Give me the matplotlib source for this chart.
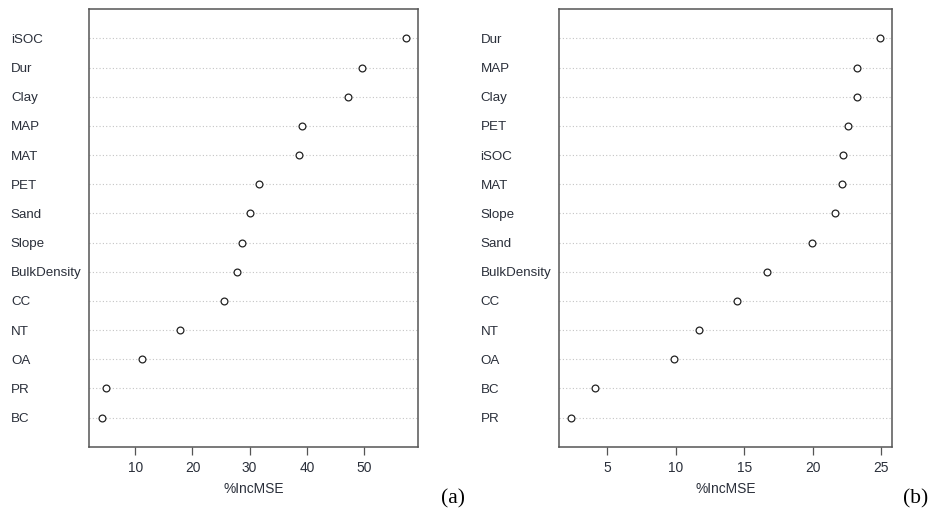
import matplotlib
matplotlib.use('Agg')
import matplotlib.pyplot as plt

# Panel (a): Variablen und %IncMSE (von oben nach unten)
vars_a = ['iSOC', 'Dur', 'Clay', 'MAP', 'MAT', 'PET', 'Sand', 'Slope',
          'BulkDensity', 'CC', 'NT', 'OA', 'PR', 'BC']
inc_a = [57.4, 49.6, 47.3, 39.1, 38.6, 31.6, 30.0, 28.7, 27.8, 25.5,
         17.8, 11.2, 4.9, 4.1]
ticks_a = [10, 20, 30, 40, 50]

# Panel (b)
vars_b = ['Dur', 'MAP', 'Clay', 'PET', 'iSOC', 'MAT', 'Slope', 'Sand',
          'BulkDensity', 'CC', 'NT', 'OA', 'BC', 'PR']
inc_b = [24.9, 23.2, 23.2, 22.6, 22.2, 22.1, 21.6, 19.95, 16.7, 14.5,
         11.7, 9.9, 4.1, 2.4]
ticks_b = [5, 10, 15, 20, 25]

TXT = '#2a2f3a'
EDGE = '#555555'

plt.rcParams['font.family'] = ['Liberation Sans', 'DejaVu Sans']

fig = plt.figure(figsize=(9.3, 5.15), dpi=100)


def dotchart(ax, labels, values, ticks):
    n = len(labels)
    rows = list(range(n, 0, -1))
    ax.grid(axis='y', linestyle=(0, (1, 2)), color='#c4c4c4', linewidth=0.8)
    ax.set_axisbelow(True)
    ax.scatter(values, rows, s=24, facecolors='white', edgecolors='#222222',
               linewidths=0.9, zorder=3)
    lo, hi = min(values), max(values)
    pad = 0.04 * (hi - lo)
    ax.set_xlim(lo - pad, hi + pad)
    ax.set_ylim(0, n + 1)
    ax.set_yticks(rows)
    ax.set_yticklabels(labels, fontsize=9.6, color=TXT)
    for lbl in ax.get_yticklabels():
        lbl.set_ha('left')
    ax.tick_params(axis='y', length=0, pad=56.5)
    ax.set_xticks(ticks)
    ax.tick_params(axis='x', length=6, width=0.9, color=EDGE,
                   labelsize=9.9, labelcolor=TXT, pad=4)
    ax.set_xlabel('%IncMSE', fontsize=9.9, color=TXT, labelpad=5)
    for sp in ax.spines.values():
        sp.set_color(EDGE)
        sp.set_linewidth(1.1)


ax1 = fig.add_axes([0.0961, 0.1326, 0.3538, 0.8493])
dotchart(ax1, vars_a, inc_a, ticks_a)

ax2 = fig.add_axes([0.6011, 0.1326, 0.3583, 0.8493])
dotchart(ax2, vars_b, inc_b, ticks_b)

fig.text(0.4745, 0.022, '(a)', family='Liberation Serif', fontsize=15.5,
         color='black')
fig.text(0.9715, 0.022, '(b)', family='Liberation Serif', fontsize=15.5,
         color='black')

fig.savefig('out.png', dpi=100, facecolor='white')
